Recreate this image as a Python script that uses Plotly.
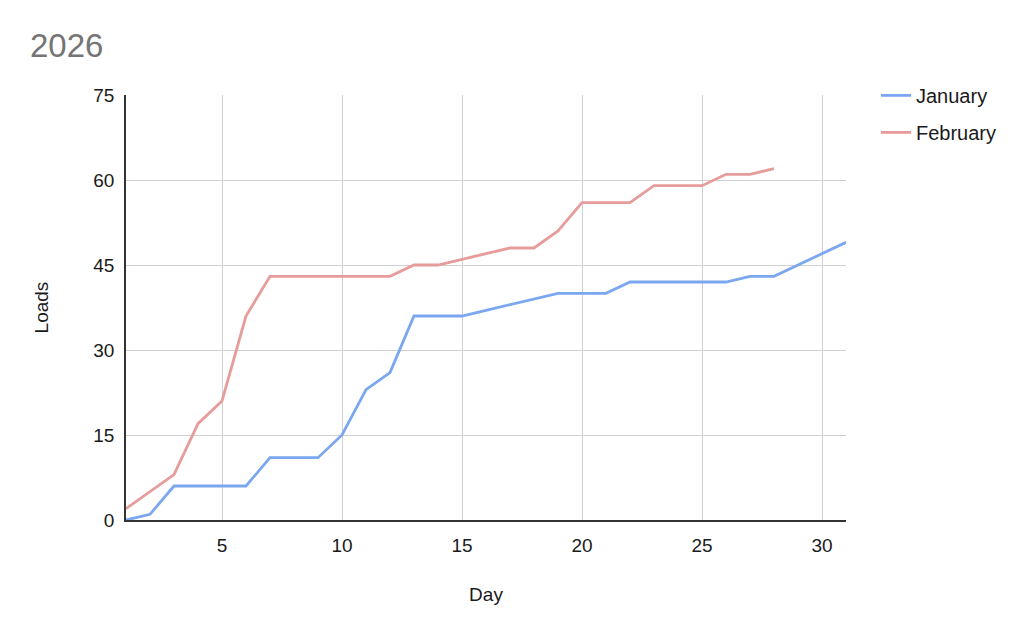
import plotly.graph_objects as go

days = list(range(1, 32))
january = [0, 1, 6, 6, 6, 6, 11, 11, 11, 15, 23, 26, 36, 36, 36, 37, 38, 39, 40, 40,
           40, 42, 42, 42, 42, 42, 43, 43, 45, 47, 49]
feb_days = list(range(1, 29))
february = [2, 5, 8, 17, 21, 36, 43, 43, 43, 43, 43, 43, 45, 45, 46, 47, 48, 48, 51, 56,
            56, 56, 59, 59, 59, 61, 61, 62]
x_ticks = [5, 10, 15, 20, 25, 30]
y_ticks = [0, 15, 30, 45, 60, 75]

FONT = "Liberation Sans, Arial, sans-serif"
W, H = 1020, 628

fig = go.Figure()
fig.add_trace(go.Scatter(x=days, y=january, mode="lines", name="January",
                         legendgroup="a",
                         line=dict(color="#7ba6f0", width=2.8)))
fig.add_trace(go.Scatter(x=feb_days, y=february, mode="lines", name="February",
                         legendgroup="b",
                         line=dict(color="#e69c9b", width=2.8)))

fig.update_layout(
    width=W, height=H,
    margin=dict(l=118, r=182, t=87, b=116),
    paper_bgcolor="white", plot_bgcolor="white",
    font=dict(family=FONT, size=19, color="#1a1a1a"),
    title=dict(text="2026", x=22/W, xref="container", xanchor="left",
               y=1-37/H, yref="container", yanchor="middle",
               font=dict(size=33, color="#757575", family=FONT)),
    legend=dict(x=750/720, xanchor="left", y=1.045, yanchor="top",
                font=dict(size=20, color="#1a1a1a"),
                tracegroupgap=8, bgcolor="rgba(0,0,0,0)"),
    showlegend=True,
)
fig.update_xaxes(range=[1, 31], tickvals=x_ticks, showgrid=True, gridcolor="#d0d0d0",
                 gridwidth=1.2, zeroline=False, showline=True, linecolor="#333333",
                 linewidth=1.5, ticks="", ticklabelstandoff=7,
                 tickfont=dict(size=19),
                 title=dict(text="Day", standoff=33, font=dict(size=19)))
fig.update_yaxes(range=[0, 75], tickvals=y_ticks, showgrid=True, gridcolor="#d0d0d0",
                 gridwidth=1.2, zeroline=False, showline=True, linecolor="#333333",
                 linewidth=1.5, ticks="", ticklabelstandoff=6,
                 tickfont=dict(size=19),
                 title=dict(text="Loads", standoff=40, font=dict(size=19)))

fig.write_html("out.html")
